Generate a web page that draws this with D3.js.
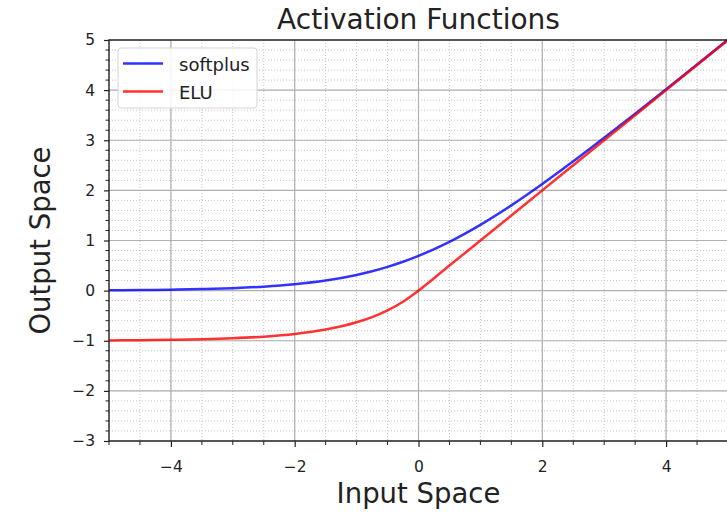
<!DOCTYPE html>
<html>
<head>
<meta charset="utf-8">
<script src="https://cdn.jsdelivr.net/npm/d3@7"></script>
<style>
  html, body { margin: 0; padding: 0; background: #fff; }
  svg { display: block; font-family: "DejaVu Sans", sans-serif; }
</style>
</head>
<body>
<svg id="chart" width="727" height="512"></svg>
<script>
// Sample inputs and the two activation curves evaluated at them
const xs = [-5, -4.5, -4, -3.5, -3, -2.5, -2, -1.5, -1, -0.75, -0.5, -0.25, 0, 0.5, 1, 1.5, 2, 2.5, 3, 3.5, 4, 4.5, 5];
const softplus = [0.007, 0.011, 0.018, 0.030, 0.049, 0.079, 0.127, 0.201, 0.313, 0.386, 0.474, 0.576, 0.693, 0.974, 1.313, 1.701, 2.127, 2.579, 3.049, 3.530, 4.018, 4.511, 5.007];
const elu = [-0.993, -0.989, -0.982, -0.970, -0.950, -0.918, -0.865, -0.777, -0.632, -0.528, -0.393, -0.221, 0, 0.5, 1, 1.5, 2, 2.5, 3, 3.5, 4, 4.5, 5];

const seriesNames = ["softplus", "ELU"];
const seriesColors = ["rgba(0,0,255,0.8)", "rgba(255,0,0,0.8)"];

const xTicks = [-4, -2, 0, 2, 4];
const yTicks = [-3, -2, -1, 0, 1, 2, 3, 4, 5];

const svg = d3.select("#chart");
const plotL = 109, plotR = 728, plotT = 40, plotB = 441;

const x = d3.scaleLinear().domain([-5, 5]).range([plotL, plotR]);
const y = d3.scaleLinear().domain([-3, 5]).range([plotB, plotT]);

const xMinor = d3.range(-5, 5.001, 0.5).map(v => +v.toFixed(2));
const yMinor = d3.range(-3, 5.001, 0.2).map(v => +v.toFixed(2));

const grid = svg.append("g");
// minor dotted grid
grid.append("g").selectAll("line").data(xMinor).join("line")
  .attr("x1", d => x(d)).attr("x2", d => x(d))
  .attr("y1", plotT).attr("y2", plotB)
  .attr("stroke", "#c4c4c4").attr("stroke-width", 1)
  .attr("stroke-dasharray", "1,2");
grid.append("g").selectAll("line").data(yMinor).join("line")
  .attr("x1", plotL).attr("x2", plotR)
  .attr("y1", d => y(d)).attr("y2", d => y(d))
  .attr("stroke", "#c4c4c4").attr("stroke-width", 1)
  .attr("stroke-dasharray", "1,2");
// major solid grid
grid.append("g").selectAll("line").data(xTicks).join("line")
  .attr("x1", d => x(d)).attr("x2", d => x(d))
  .attr("y1", plotT).attr("y2", plotB)
  .attr("stroke", "#b0b0b0").attr("stroke-width", 1.2);
grid.append("g").selectAll("line").data(yTicks).join("line")
  .attr("x1", plotL).attr("x2", plotR)
  .attr("y1", d => y(d)).attr("y2", d => y(d))
  .attr("stroke", "#b0b0b0").attr("stroke-width", 1.2);

// curves
const pts = [softplus, elu].map(vals => xs.map((v, i) => [v, vals[i]]));
const line = d3.line().x(d => x(d[0])).y(d => y(d[1])).curve(d3.curveMonotoneX);
svg.append("g").selectAll("path").data(pts).join("path")
  .attr("d", line)
  .attr("fill", "none")
  .attr("stroke", (d, i) => seriesColors[i])
  .attr("stroke-width", 2.5);

// axes
const fmt = d => (d < 0 ? "\u2212" + Math.abs(d) : String(d));
const xAxis = svg.append("g").attr("transform", `translate(0,${plotB})`)
  .call(d3.axisBottom(x).tickValues(xTicks).tickFormat(fmt).tickSize(6).tickPadding(14));
const yAxis = svg.append("g").attr("transform", `translate(${plotL},0)`)
  .call(d3.axisLeft(y).tickValues(yTicks).tickFormat(fmt).tickSize(5).tickPadding(9));
[xAxis, yAxis].forEach(a => {
  a.select(".domain").remove();
  a.selectAll("text").attr("font-size", 15.5).attr("fill", "#222").attr("font-family", "DejaVu Sans");
  a.selectAll(".tick line").attr("stroke", "#222").attr("stroke-width", 1.2);
});
// minor ticks
svg.append("g").selectAll("line").data(xMinor.filter(v => !xTicks.includes(v))).join("line")
  .attr("x1", d => x(d)).attr("x2", d => x(d))
  .attr("y1", plotB).attr("y2", plotB + 4).attr("stroke", "#222");
svg.append("g").selectAll("line").data(yMinor.filter(v => !yTicks.includes(v))).join("line")
  .attr("x1", plotL - 3.5).attr("x2", plotL)
  .attr("y1", d => y(d)).attr("y2", d => y(d)).attr("stroke", "#222");

// spines
svg.append("rect").attr("x", plotL).attr("y", plotT)
  .attr("width", plotR - plotL).attr("height", plotB - plotT)
  .attr("fill", "none").attr("stroke", "#222").attr("stroke-width", 1.4);

// legend
const lg = svg.append("g").attr("transform", "translate(118,48)");
lg.append("rect").attr("width", 139).attr("height", 60).attr("rx", 3)
  .attr("fill", "rgba(255,255,255,0.85)").attr("stroke", "#d5d5d5");
seriesNames.forEach((name, i) => {
  const yy = 15.5 + i * 28;
  lg.append("line").attr("x1", 5).attr("x2", 45).attr("y1", yy).attr("y2", yy)
    .attr("stroke", seriesColors[i]).attr("stroke-width", 2.5);
  lg.append("text").attr("x", 61).attr("y", yy + 7).text(name)
    .attr("font-size", 18).attr("fill", "#222");
});

// titles
svg.append("text").attr("x", (plotL + plotR) / 2).attr("y", 29)
  .attr("text-anchor", "middle").attr("font-size", 28).attr("fill", "#222")
  .text("Activation Functions");
svg.append("text").attr("x", (plotL + plotR) / 2).attr("y", 503)
  .attr("text-anchor", "middle").attr("font-size", 27.5).attr("fill", "#222")
  .text("Input Space");
svg.append("text").attr("transform", `translate(50,${(plotT + plotB) / 2}) rotate(-90)`)
  .attr("text-anchor", "middle").attr("font-size", 27.5).attr("fill", "#222")
  .text("Output Space");
</script>
</body>
</html>
